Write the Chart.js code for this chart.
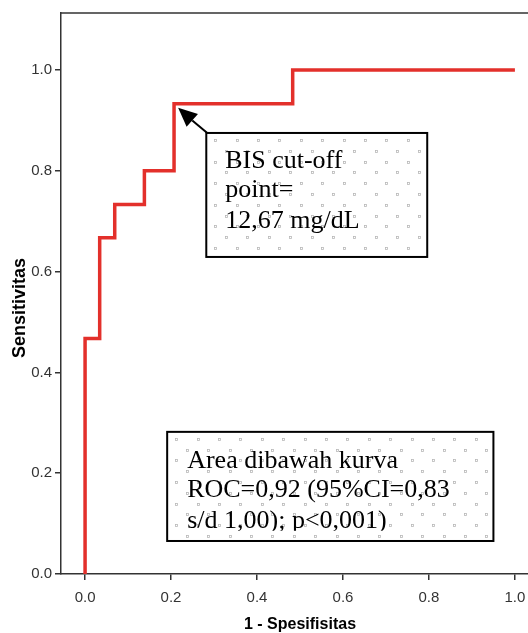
<!DOCTYPE html>
<html>
<head>
<meta charset="utf-8">
<script src="https://cdn.jsdelivr.net/npm/chart.js@4.4.0/dist/chart.umd.min.js"></script>
<style>
html, body { margin: 0; padding: 0; background: #fff; overflow: hidden; }
#wrap { width: 560px; height: 633px; }
</style>
</head>
<body>
<div id="wrap"><canvas id="roc" width="560" height="633"></canvas></div>
<script>
// DATOS
const spesifisitas1 = [0, 0, 0.034, 0.034, 0.069, 0.069, 0.138, 0.138, 0.207, 0.207, 0.483, 0.483, 1.0];
const sensitivitas = [0, 0.467, 0.467, 0.667, 0.667, 0.733, 0.733, 0.8, 0.8, 0.933, 0.933, 1.0, 1.0];
const ticksX = [0, 0.2, 0.4, 0.6, 0.8, 1.0];
const ticksY = [0, 0.2, 0.4, 0.6, 0.8, 1.0];
const labelX = '1 - Spesifisitas';
const labelY = 'Sensitivitas';
const notaCutoff = ['BIS cut-off', 'point=', '12,67 mg/dL'];
const notaArea = ['Area dibawah kurva', 'ROC=0,92 (95%CI=0,83', 's/d 1,00); p<0,001)'];

const puntos = spesifisitas1.map((x, i) => ({ x: x, y: sensitivitas[i] }));

// ----------------------------
// fondo punteado de las cajas
function punteado(ctx, x0, y0, x1, y1) {
    ctx.save();
    ctx.beginPath();
    ctx.rect(x0, y0, x1 - x0, y1 - y0);
    ctx.clip();
    ctx.strokeStyle = '#b8b8b8';
    ctx.lineWidth = 0.8;
    let fila = 0;
    for (let y = y0 + 6; y < y1; y += 10.8, fila++) {
        const off = fila % 2 ? 10.7 : 0;
        for (let x = x0 + 8 + off - 21.4; x < x1; x += 21.4) {
            ctx.strokeRect(Math.round(x) + 0.5, Math.round(y) + 0.5, 2, 2);
        }
    }
    ctx.restore();
}

function caja(ctx, sx, sy, b, lineas, izq, bases, corte) {
    const x0 = sx.getPixelForValue(b[0]), x1 = sx.getPixelForValue(b[1]);
    const y0 = sy.getPixelForValue(b[2]), y1 = sy.getPixelForValue(b[3]);
    ctx.save();
    ctx.fillStyle = '#fff';
    ctx.fillRect(x0, y0, x1 - x0, y1 - y0);
    punteado(ctx, x0, y0, x1, y1);
    ctx.beginPath();
    ctx.rect(x0, y0, x1 - x0, corte ? sy.getPixelForValue(corte) - y0 : y1 - y0);
    ctx.clip();
    ctx.fillStyle = '#000';
    ctx.font = '26px "Liberation Serif", "Times New Roman", serif';
    ctx.textBaseline = 'alphabetic';
    ctx.textAlign = 'left';
    lineas.forEach((t, i) => ctx.fillText(t, sx.getPixelForValue(izq), sy.getPixelForValue(bases[i])));
    ctx.restore();
    ctx.save();
    ctx.strokeStyle = '#000';
    ctx.lineWidth = 2;
    ctx.strokeRect(x0, y0, x1 - x0, y1 - y0);
    ctx.restore();
    return { x0, y0, x1, y1 };
}

const notas = {
    id: 'notas',
    afterDatasetsDraw(chart) {
        const ctx = chart.ctx;
        const sx = chart.scales.x, sy = chart.scales.y;
        const a = chart.chartArea;

        // marco superior y derecho
        ctx.save();
        ctx.strokeStyle = '#333';
        ctx.lineWidth = 1.5;
        ctx.beginPath();
        ctx.moveTo(a.left, a.top);
        ctx.lineTo(a.right, a.top);
        ctx.lineTo(a.right, a.bottom);
        ctx.stroke();
        ctx.restore();

        // caja cut-off
        const c = caja(ctx, sx, sy, [0.282, 0.796, 0.875, 0.629], notaCutoff, 0.326, [0.806, 0.748, 0.687]);

        // flecha
        const tx = sx.getPixelForValue(0.2165), ty = sy.getPixelForValue(0.925);
        const ang = Math.atan2(ty - c.y0, tx - c.x0);
        const largo = 19, ancho = 8.5;
        const bx = tx - largo * Math.cos(ang), by = ty - largo * Math.sin(ang);
        ctx.save();
        ctx.strokeStyle = '#000';
        ctx.fillStyle = '#000';
        ctx.lineWidth = 2;
        ctx.beginPath();
        ctx.moveTo(c.x0 + 1, c.y0);
        ctx.lineTo(bx, by);
        ctx.stroke();
        ctx.beginPath();
        ctx.moveTo(tx, ty);
        ctx.lineTo(bx + ancho * Math.sin(ang), by - ancho * Math.cos(ang));
        ctx.lineTo(bx - ancho * Math.sin(ang), by + ancho * Math.cos(ang));
        ctx.closePath();
        ctx.fill();
        ctx.restore();

        // caja area
        caja(ctx, sx, sy, [0.191, 0.95, 0.282, 0.0655], notaArea, 0.2375, [0.210, 0.153, 0.091], 0.086);

        // titulos de ejes
        ctx.save();
        ctx.fillStyle = '#000';
        ctx.textAlign = 'center';
        ctx.textBaseline = 'alphabetic';
        ctx.font = 'bold 16px "Liberation Sans", Arial, sans-serif';
        ctx.fillText(labelX, 300, 629);
        ctx.font = 'bold 18px "Liberation Sans", Arial, sans-serif';
        ctx.translate(25, 308);
        ctx.rotate(-Math.PI / 2);
        ctx.fillText(labelY, 0, 0);
        ctx.restore();
    }
};

// ----------------------------
// CHART JS
const fuenteTicks = { family: '"Liberation Sans", Arial, sans-serif', size: 15 };

new Chart(document.getElementById('roc'), {
    type: 'line',
    data: {
        datasets: [{
            data: puntos,
            borderColor: '#e3302b',
            borderWidth: 3.5,
            pointRadius: 0,
            tension: 0,
            borderJoinStyle: 'miter',
            fill: false
        }]
    },
    options: {
        responsive: false,
        animation: false,
        events: [],
        layout: { padding: { top: 13, right: 15, left: 0, bottom: 0 } },
        plugins: { legend: { display: false }, tooltip: { enabled: false } },
        scales: {
            x: {
                type: 'linear',
                min: -0.056,
                max: 1.07,
                afterBuildTicks: s => { s.ticks = ticksX.map(v => ({ value: v })); },
                afterFit: s => { s.height = 59; },
                grid: { drawOnChartArea: false, drawTicks: true, tickLength: 6, color: '#333', lineWidth: 1.5 },
                border: { color: '#333', width: 1.5 },
                ticks: { font: fuenteTicks, color: '#333', padding: 9, maxRotation: 0, callback: v => v.toFixed(1) }
            },
            y: {
                type: 'linear',
                min: 0,
                max: 1.113,
                afterBuildTicks: s => { s.ticks = ticksY.map(v => ({ value: v })); },
                afterFit: s => { s.width = 61; },
                grid: { drawOnChartArea: false, drawTicks: true, tickLength: 6, color: '#333', lineWidth: 1.5 },
                border: { color: '#333', width: 1.5 },
                ticks: { font: fuenteTicks, color: '#333', padding: 3, callback: v => v.toFixed(1) }
            }
        }
    },
    plugins: [notas]
});
</script>
</body>
</html>
